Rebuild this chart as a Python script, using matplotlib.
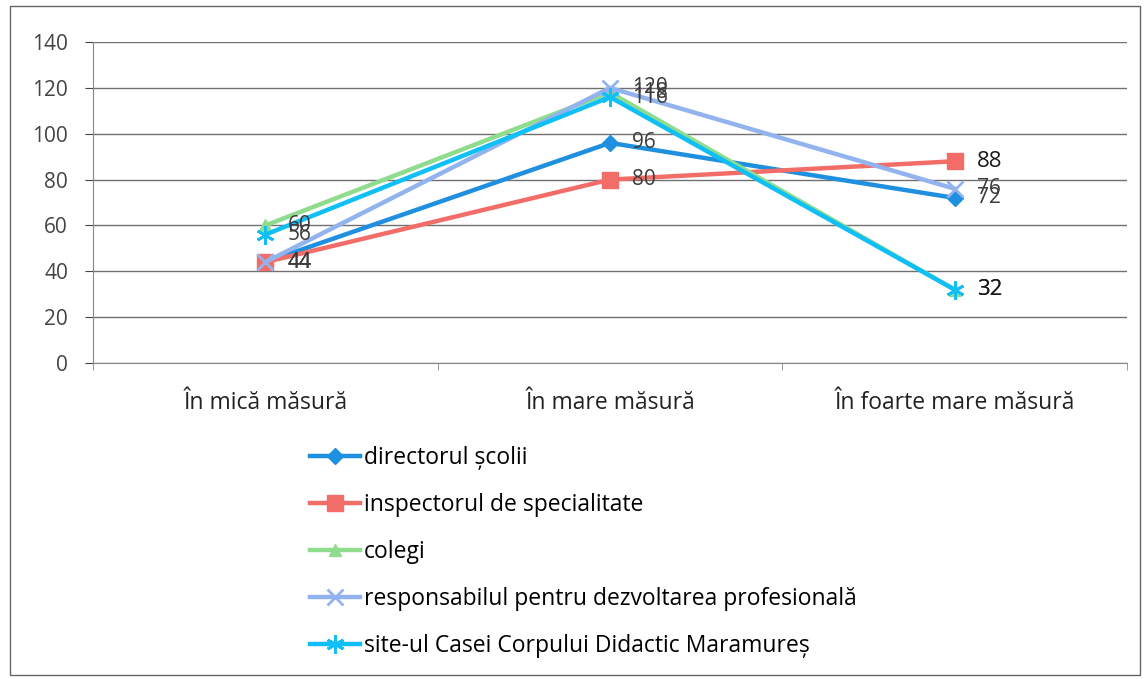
import matplotlib.pyplot as plt
from matplotlib.patches import Rectangle

plt.rcParams['font.family'] = ['Open Sans', 'DejaVu Sans']

categories = ['În mică măsură', 'În mare măsură', 'În foarte mare măsură']
series_names = ['directorul școlii', 'inspectorul de specialitate', 'colegi',
                'responsabilul pentru dezvoltarea profesională',
                'site-ul Casei Corpului Didactic Maramureș']
directorul = [44, 96, 72]
inspectorul = [44, 80, 88]
colegi = [60, 118, 32]
responsabil = [44, 120, 76]
site_ccd = [56, 116, 32]
yticks = [0, 20, 40, 60, 80, 100, 120, 140]

values = [directorul, inspectorul, colegi, responsabil, site_ccd]
colors = ['#1f8fe0', '#f26d68', '#8fdc8f', '#93b3ee', '#10bff5']
markers = ['D', 's', '^', 'x', (6, 2, 0)]
msizes = [8, 11, 9, 12, 13]

fig = plt.figure(figsize=(11.47, 6.79), dpi=100)
fig.patches.append(Rectangle((0.009, 0.006), 0.985, 0.985, transform=fig.transFigure,
                             fill=False, edgecolor='#666666', linewidth=1.0))
ax = fig.add_axes([0.0811, 0.4654, 0.9015, 0.4727])

x = list(range(len(categories)))
for i, (vals, name, c, m, ms) in enumerate(zip(values, series_names, colors, markers, msizes)):
    ax.plot(x, vals, color=c, linewidth=3.2, marker=m, markersize=ms,
            markeredgewidth=2 if m in ('x', (6, 2, 0)) else 1, markeredgecolor=c,
            label=name, solid_joinstyle='round')
    for xi, v in zip(x, vals):
        big = (xi == 2 and v in (88, 32))
        ax.annotate(str(v), (xi, v), xytext=(16, 0), textcoords='offset points',
                    va='center', ha='left', fontsize=16 if big else 15,
                    color='#1a1a1a' if big else '#3c3c3c')

ax.set_xlim(-0.5, 2.5)
ax.set_ylim(0, 140)
ax.set_yticks(yticks)
ax.set_xticks(x)
ax.set_xticklabels(categories, fontsize=16.5, color='#222222')
ax.tick_params(axis='x', length=0, pad=20)
ax.tick_params(axis='y', labelsize=15, colors='#444444', length=6, direction='out', pad=12)
ax.set_xticks([-0.5, 0.5, 1.5, 2.5], minor=True)
ax.tick_params(axis='x', which='minor', length=5, color='#888888')
ax.grid(axis='y', color='#707070', linewidth=1.0)
ax.set_axisbelow(True)
for s in ['top', 'right']:
    ax.spines[s].set_visible(False)
ax.spines['left'].set_color('#888888')
ax.spines['bottom'].set_color('#888888')

fig.legend(loc='upper left', bbox_to_anchor=(0.262, 0.356), frameon=False,
           fontsize=16.5, labelspacing=1.0, handlelength=2.2, handletextpad=0.15,
           borderaxespad=0)

fig.savefig('out.png', dpi=100)
